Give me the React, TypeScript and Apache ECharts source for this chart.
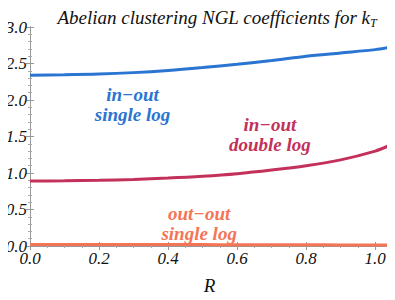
import React, { useEffect, useRef } from "react";
import * as echarts from "echarts";

const rValues = [0, 0.1, 0.2, 0.3, 0.4, 0.5, 0.6, 0.7, 0.8, 0.9, 1.0, 1.04];
const inOutSingle = [2.34, 2.345, 2.355, 2.375, 2.405, 2.445, 2.49, 2.54, 2.6, 2.645, 2.69, 2.72];
const inOutDouble = [0.89, 0.893, 0.9, 0.912, 0.93, 0.955, 0.99, 1.04, 1.1, 1.18, 1.3, 1.375];
const outOutSingle = [0.02, 0.02, 0.02, 0.02, 0.019, 0.019, 0.018, 0.017, 0.016, 0.015, 0.014, 0.013];

const xTicks = { min: 0, max: 1.04, interval: 0.2 };
const yTicks = { min: 0, max: 3, interval: 0.5 };

const labels = [
  { text: "in\u2212out\nsingle log", r: 0.297, v: 1.94, color: "#2a74d2" },
  { text: "in\u2212out\ndouble log", r: 0.695, v: 1.53, color: "#c3305a" },
  { text: "out\u2212out\nsingle log", r: 0.49, v: 0.31, color: "#f47556" },
];

const colors = ["#2a74d2", "#c3305a", "#f47556"];
const seriesData = [inOutSingle, inOutDouble, outOutSingle];

const FONT = "Liberation Serif";

export default function App() {
  const ref = useRef<HTMLDivElement>(null);
  useEffect(() => {
    const chart = echarts.init(ref.current!, null, { renderer: "svg" });
    const frameLine = { show: true, lineStyle: { color: "#999", width: 1 } };
    const tickCommon = (split: number) => ({
      axisLine: frameLine,
      axisTick: { show: true, inside: true, length: 4, lineStyle: { color: "#999" } },
      minorTick: { show: true, splitNumber: split, length: 2, lineStyle: { color: "#aaa" } },
      splitLine: { show: false },
    });
    const lbl = {
      show: true, color: "#111", fontFamily: FONT, fontStyle: "italic", fontWeight: "normal", fontSize: 17,
      formatter: (v: number) => v.toFixed(1),
    };
    chart.setOption({
      animation: false,
      textStyle: { fontFamily: FONT },
      title: {
        text: "{a|Abelian clustering NGL coefficients for k}{s|T}",
        left: 212,
        textAlign: "center",
        top: 1,
        textStyle: {
          fontWeight: "normal",
          fontFamily: FONT,
          rich: {
            a: { fontFamily: FONT, fontStyle: "italic", fontWeight: "normal", fontSize: 19, color: "#111" },
            s: { fontFamily: FONT, fontStyle: "italic", fontWeight: "normal", fontSize: 12, color: "#111", padding: [11, 0, 0, 0] },
          },
        },
      },
      grid: { left: 30, right: 6, top: 27, bottom: 52 },
      xAxis: [
        {
          type: "value",
          ...xTicks,
          name: "R",
          nameLocation: "middle",
          nameGap: 30,
          nameTextStyle: { fontFamily: FONT, fontStyle: "italic", fontSize: 19, color: "#111" },
          ...tickCommon(4),
          axisLabel: { ...lbl, margin: 4, showMaxLabel: false },
        },
        { type: "value", position: "top", ...xTicks, ...tickCommon(4), axisLabel: { show: false } },
      ],
      yAxis: [
        {
          type: "value",
          ...yTicks,
          ...tickCommon(5),
          axisLabel: { ...lbl, fontSize: 17, margin: 3 },
        },
        { type: "value", position: "right", ...yTicks, ...tickCommon(5), axisLabel: { show: false } },
      ],
      series: seriesData.map((d, i) => ({
        type: "line",
        data: rValues.map((r, j) => [r, d[j]]),
        smooth: 0.3,
        showSymbol: false,
        symbol: "none",
        lineStyle: { color: colors[i], width: 3 },
        z: 3 - i,
        markPoint: {
          symbol: "circle",
          symbolSize: 0,
          data: [
            {
              coord: [labels[i].r, labels[i].v],
              label: {
                show: true,
                formatter: labels[i].text,
                position: "inside",
                color: labels[i].color,
                fontFamily: FONT,
                fontStyle: "italic",
                fontWeight: "bold",
                fontSize: 19,
                lineHeight: 20,
                align: "center",
              },
            },
          ],
        },
      })),
    });
    return () => chart.dispose();
  }, []);
  return <div ref={ref} style={{ width: 395, height: 300, margin: -8 }} />;
}
